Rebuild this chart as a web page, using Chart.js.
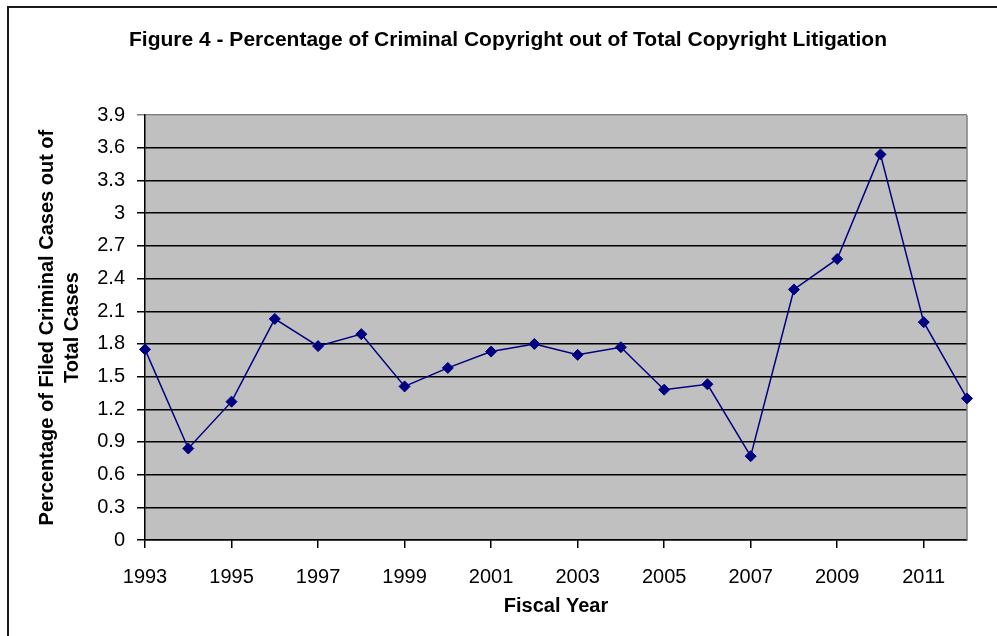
<!DOCTYPE html>
<html>
<head>
<meta charset="utf-8">
<script src="https://cdn.jsdelivr.net/npm/chart.js@4.4.1/dist/chart.umd.min.js"></script>
<style>
  html, body { margin: 0; padding: 0; background: #fff; overflow: hidden; }
  #wrap { position: relative; width: 997px; height: 636px; }
  #frame {
    position: absolute; left: 7px; top: 6px; width: 1020px; height: 660px;
    border: 2px solid #1a1a1a; pointer-events: none;
  }
  canvas { position: absolute; left: 0; top: 0; }
</style>
</head>
<body>
<div id="wrap">
  <canvas id="litChart" width="997" height="636"></canvas>
  <div id="frame"></div>
</div>
<script>
const years = [1993, 1994, 1995, 1996, 1997, 1998, 1999, 2000, 2001, 2002,
               2003, 2004, 2005, 2006, 2007, 2008, 2009, 2010, 2011, 2012];
const criminalPct = [1.75, 0.84, 1.27, 2.03, 1.78, 1.89, 1.41, 1.58, 1.73, 1.80,
                     1.70, 1.77, 1.38, 1.43, 0.77, 2.30, 2.58, 3.54, 2.00, 1.30];
const xTickYears = [1993, 1995, 1997, 1999, 2001, 2003, 2005, 2007, 2009, 2011];
const yTicks = [0, 0.3, 0.6, 0.9, 1.2, 1.5, 1.8, 2.1, 2.4, 2.7, 3, 3.3, 3.6, 3.9];

const FONT = "'Liberation Sans', Arial, sans-serif";

// grey plot area + grey right edge
const plotArea = {
  id: 'plotArea',
  beforeDraw(chart) {
    const { ctx, chartArea: a } = chart;
    ctx.save();
    ctx.fillStyle = '#c0c0c0';
    ctx.fillRect(a.left, a.top, a.right - a.left, a.bottom - a.top);
    ctx.restore();
  },
  beforeDatasetsDraw(chart) {
    const { ctx, chartArea: a } = chart;
    ctx.save();
    ctx.strokeStyle = '#808080';
    ctx.lineWidth = 1.5;
    ctx.beginPath();
    ctx.moveTo(a.right, a.top);
    ctx.lineTo(a.right, a.bottom);
    ctx.stroke();
    ctx.restore();
  }
};

const ctx = document.getElementById('litChart').getContext('2d');
new Chart(ctx, {
  type: 'line',
  data: {
    datasets: [{
      label: 'Criminal share',
      data: years.map((y, i) => ({ x: y, y: criminalPct[i] })),
      borderColor: '#000080',
      backgroundColor: '#000080',
      borderWidth: 1.5,
      pointStyle: 'rectRot',
      pointRadius: 5.5,
      pointBorderWidth: 1,
      pointBackgroundColor: '#000080',
      pointBorderColor: '#000080',
      tension: 0,
      fill: false,
      clip: false
    }]
  },
  options: {
    responsive: false,
    animation: false,
    layout: { padding: { left: 49, right: 30, top: 0, bottom: 0 } },
    plugins: {
      legend: { display: false },
      tooltip: { enabled: false },
      title: {
        display: true,
        text: 'Figure 4 - Percentage of Criminal Copyright out of Total Copyright Litigation',
        color: '#000',
        font: { family: FONT, size: 21, weight: 'bold', lineHeight: 1.2 },
        padding: { top: 28, bottom: 62 }
      }
    },
    scales: {
      x: {
        type: 'linear',
        min: 1993,
        max: 2012,
        afterBuildTicks: (scale) => { scale.ticks = xTickYears.map(v => ({ value: v })); },
        afterFit: (scale) => { scale.height = 96; },
        grid: { drawOnChartArea: false, drawTicks: true, tickLength: 8, color: '#000', lineWidth: 1.5 },
        border: { color: '#000', width: 1.5 },
        ticks: {
          color: '#000',
          padding: 17,
          maxRotation: 0,
          autoSkip: false,
          font: { family: FONT, size: 20 },
          callback: (v) => String(v)
        },
        title: {
          display: true,
          text: 'Fiscal Year',
          color: '#000',
          font: { family: FONT, size: 20, weight: 'bold', lineHeight: 1.2 },
          padding: { top: 4, bottom: 18 }
        }
      },
      y: {
        min: 0,
        max: 3.9,
        afterBuildTicks: (scale) => { scale.ticks = yTicks.map(v => ({ value: v })); },
        afterFit: (scale) => { scale.width = 96; },
        grid: {
          drawTicks: true,
          tickLength: 8,
          lineWidth: 1.5,
          color: (c) => (c.tick && c.tick.value === 3.9 ? '#808080' : '#000')
        },
        border: { color: '#000', width: 1.5 },
        ticks: {
          color: '#000',
          padding: 12,
          autoSkip: false,
          font: { family: FONT, size: 20 },
          callback: (v) => String(Math.round(v * 10) / 10)
        },
        title: {
          display: true,
          text: ['Percentage of Filed Criminal Cases out of', 'Total Cases'],
          color: '#000',
          font: { family: FONT, size: 20, weight: 'bold', lineHeight: 1.25 },
          padding: { top: -14, bottom: 0 }
        }
      }
    }
  },
  plugins: [plotArea]
});
</script>
</body>
</html>
